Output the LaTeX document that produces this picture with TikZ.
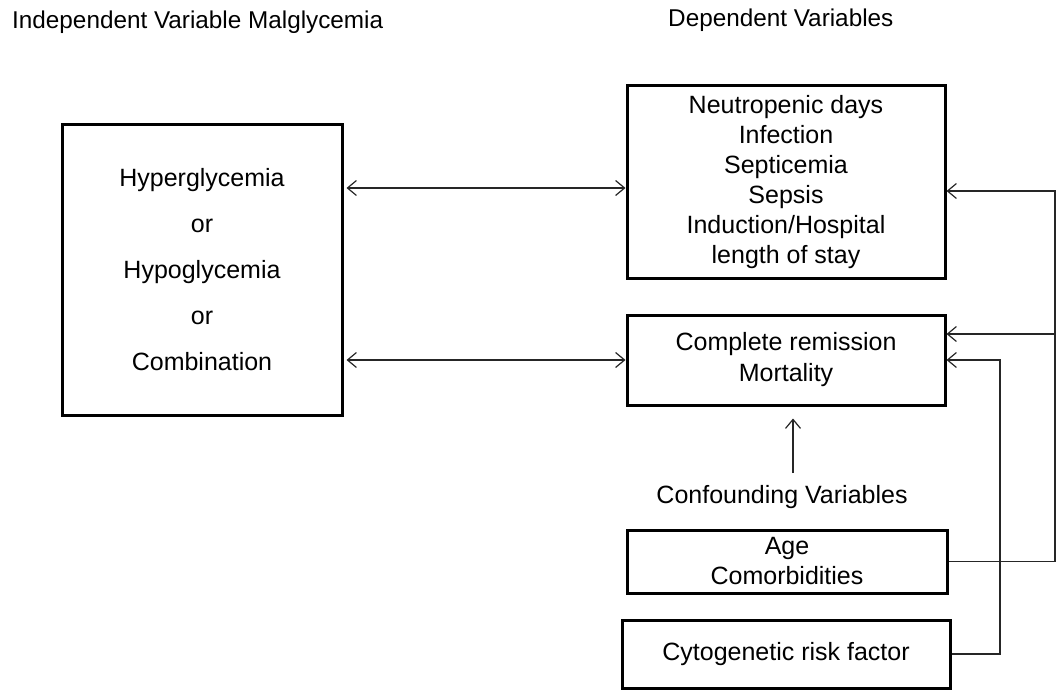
\documentclass[tikz,border=0pt]{standalone}
\usepackage{fontspec}
\setmainfont{Liberation Sans}
\usetikzlibrary{arrows.meta}
\begin{document}
\begin{tikzpicture}[x=1pt,y=-1pt,
  box/.style={draw=black,line width=3pt,inner sep=0pt,align=center,font=\fontsize{25}{30}\selectfont},
  lbl/.style={inner sep=0pt,font=\fontsize{24.3}{30}\selectfont},
  conn/.style={draw=black!85,line width=1.2pt},
  arr/.style={conn,-{Straight Barb[length=9pt,width=15pt,line width=1.2pt]}},
  both/.style={conn,{Straight Barb[length=9pt,width=15pt,line width=1.2pt]}-{Straight Barb[length=9pt,width=15pt,line width=1.2pt]}}]
\useasboundingbox (0,0) rectangle (1060,690);
% headers
\node[lbl,anchor=west] (hIndep) at (12,22) {Independent Variable Malglycemia};
\node[lbl,anchor=west] (hDep) at (668,20) {Dependent Variables};
% boxes
\node[box,minimum width=280pt,minimum height=290pt,font=\fontsize{25}{46}\selectfont] (L) at (202,270)
  {Hyperglycemia\\or\\Hypoglycemia\\or\\Combination};
\node[box,minimum width=318pt,minimum height=192pt] (B1) at (786,182)
  {Neutropenic days\\Infection\\Septicemia\\Sepsis\\Induction/Hospital\\length of stay};
\node[box,minimum width=318pt,minimum height=90pt,font=\fontsize{25}{31}\selectfont] (B2) at (786,360)
  {Complete remission\\Mortality};
\node[lbl,font=\fontsize{25}{30}\selectfont] (CV) at (782,497) {Confounding Variables};
\node[box,minimum width=320pt,minimum height=63pt] (Age) at (787,561.5)
  {Age\\Comorbidities};
\node[box,minimum width=328pt,minimum height=68pt] (Cyto) at (786,654)
  {Cytogenetic risk factor};
% bidirectional arrows
\coordinate (a1) at ([yshift=-6pt]B1.west);
\draw[both] ([xshift=3pt]L.east |- a1) -- (a1);
\draw[both] ([xshift=3pt]L.east |- B2.west) -- (B2.west);
% confounding arrow
\draw[arr] ([xshift=11pt,yshift=12pt]CV.north) -- ([xshift=7pt,yshift=-12pt]B2.south);
% right feedback lines
\coordinate (r1) at (1055,191);
\coordinate (r2) at (1055,334);
\coordinate (r3) at (1000,360);
\draw[arr] (Age.east) -- (Age.east -| r1) -- (r1) -- (B1.east |- r1);
\draw[arr] (r2) -- (B2.east |- r2);
\draw[arr] (Cyto.east) -- (Cyto.east -| r3) -- (r3) -- (B2.east |- r3);
\end{tikzpicture}
\end{document}
